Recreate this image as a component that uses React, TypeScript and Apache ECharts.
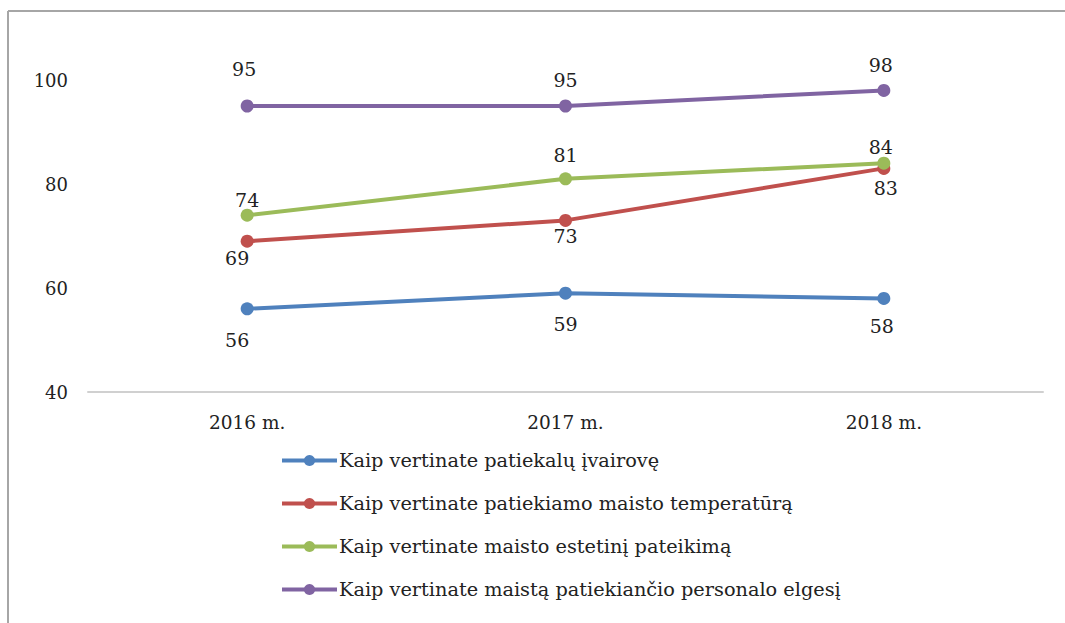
import React, { useEffect, useRef } from "react";
import * as echarts from "echarts";

const categories = ["2016 m.", "2017 m.", "2018 m."];
const seriesNames = [
  "Kaip vertinate patiekalų įvairovę",
  "Kaip vertinate patiekiamo maisto temperatūrą",
  "Kaip vertinate maisto estetinį pateikimą",
  "Kaip vertinate maistą patiekiančio personalo elgesį",
];
const variety = [56, 59, 58];
const temperature = [69, 73, 83];
const aesthetics = [74, 81, 84];
const staff = [95, 95, 98];
const yTicks = [40, 60, 80, 100];

const colors = ["#4F81BD", "#C0504D", "#9BBB59", "#8064A2"];
const labelOffsets = [
  [[-10, 31], [0, 31], [-2, 28]],
  [[-10, 17], [0, 16], [2, 20]],
  [[0, -15], [0, -24], [-3, -16]],
  [[-3, -37], [0, -26], [-3, -25]],
];

const FONT = "DejaVu Serif";

export default function App() {
  const ref = useRef<HTMLDivElement>(null);
  useEffect(() => {
    document.body.style.margin = "0";
    const chart = echarts.init(ref.current!, null, { renderer: "svg" });
    const values = [variety, temperature, aesthetics, staff];
    chart.setOption({
      animation: false,
      backgroundColor: "#ffffff",
      textStyle: { fontFamily: FONT },
      graphic: [
        { type: "line", shape: { x1: 8, y1: 11, x2: 1065, y2: 11 }, style: { stroke: "#A6A6A6", lineWidth: 2 } },
        { type: "line", shape: { x1: 8, y1: 11, x2: 8, y2: 623 }, style: { stroke: "#A6A6A6", lineWidth: 2 } },
      ],
      grid: { left: 88, right: 22, top: 80, bottom: 231, containLabel: false },
      legend: {
        orient: "vertical",
        left: 275,
        top: 446,
        itemGap: 24,
        itemWidth: 55,
        itemHeight: 14,
        lineStyle: { width: 4 },
        textStyle: { fontFamily: FONT, fontSize: 19.3, color: "#222", padding: [0, 0, 0, -3] },
        data: seriesNames,
      },
      xAxis: {
        type: "category",
        data: categories,
        boundaryGap: true,
        axisLine: { lineStyle: { color: "#D0D0D0", width: 2 } },
        axisTick: { show: false },
        axisLabel: { fontFamily: FONT, fontSize: 18.5, color: "#222", margin: 21 },
      },
      yAxis: {
        type: "value",
        min: yTicks[0],
        max: yTicks[yTicks.length - 1],
        interval: 20,
        axisLine: { show: false },
        axisTick: { show: false },
        splitLine: { show: false },
        axisLabel: { fontFamily: FONT, fontSize: 18, color: "#222", margin: 20 },
      },
      series: seriesNames.map((name, i) => ({
        name,
        type: "line",
        data: values[i].map((v, j) => ({
          value: v,
          label: { offset: labelOffsets[i][j] },
        })),
        color: colors[i],
        symbol: "circle",
        symbolSize: 13,
        lineStyle: { width: 4, color: colors[i] },
        itemStyle: { color: colors[i] },
        label: {
          show: true,
          position: "inside",
          fontFamily: FONT,
          fontSize: 19,
          color: "#222",
        },
        z: 2 + i,
      })),
    });
    return () => chart.dispose();
  }, []);
  return <div ref={ref} style={{ width: 1065, height: 623 }} />;
}
